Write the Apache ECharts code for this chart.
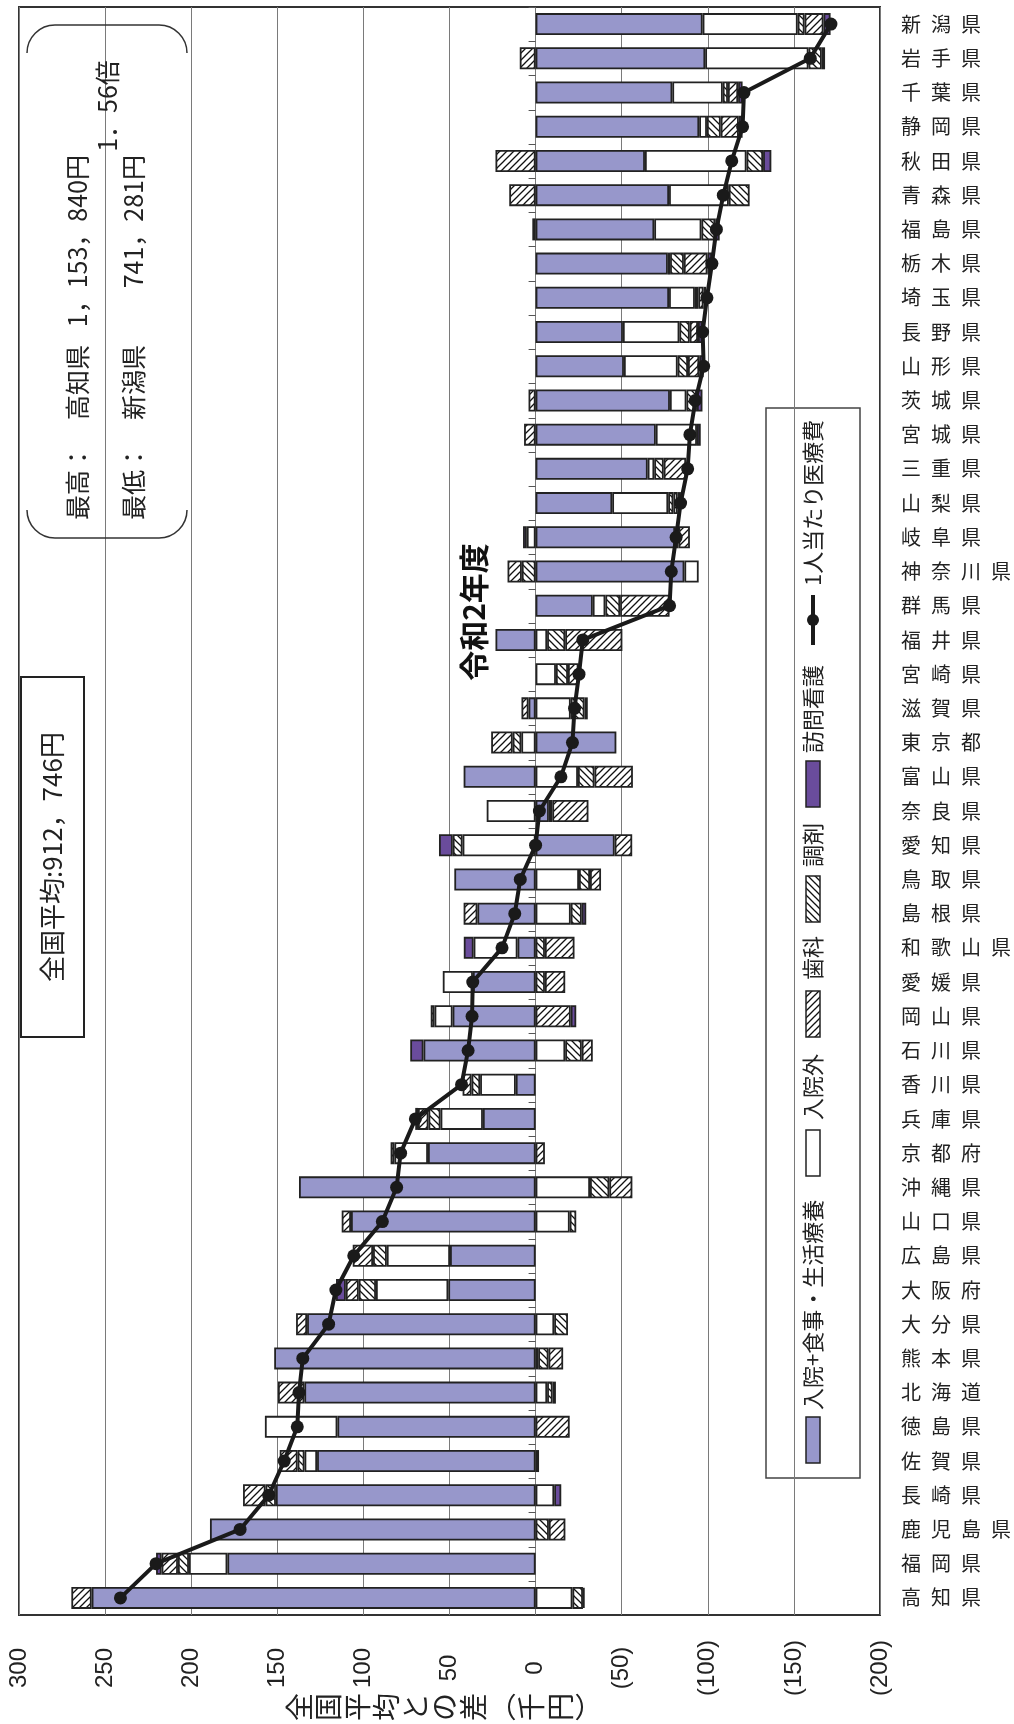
<!DOCTYPE html>
<html><head><meta charset="utf-8">
<script src="https://cdn.jsdelivr.net/npm/echarts@6/dist/echarts.min.js"></script>
<style>html,body{margin:0;padding:0;background:#fff}#c{width:1014px;height:1724px}</style>
</head><body><div id="c"></div>
<script>
// ---- data (千円, difference from national average; top -> bottom) ----
const prefectures = ['新潟県','岩手県','千葉県','静岡県','秋田県','青森県','福島県','栃木県','埼玉県','長野県','山形県','茨城県','宮城県','三重県','山梨県','岐阜県','神奈川県','群馬県','福井県','宮崎県','滋賀県','東京都','富山県','奈良県','愛知県','鳥取県','島根県','和歌山県','愛媛県','岡山県','石川県','香川県','兵庫県','京都府','沖縄県','山口県','広島県','大阪府','大分県','熊本県','北海道','徳島県','佐賀県','長崎県','鹿児島県','福岡県','高知県'];
const inpatient   = [-97.0,-98.5,-79.4,-95.0,-63.5,-77.5,-68.9,-76.8,-77.5,-50.7,-51.3,-78.0,-69.8,-65.1,-44.5,-81.0,-86.4,-33.2,23.3,0,4.1,-46.9,41.8,-7.7,-45.9,47.2,33.8,10.5,36.4,48.2,65.1,11.5,30.6,62.5,137.4,107.2,49.7,50.7,132.7,151.8,134.3,115.1,126.9,150.8,189.1,179.0,257.8];
const outpatient  = [-55.2,-60.0,-29.3,-4.5,-59.0,-34.7,-27.4,-1.3,-15.0,-32.8,-31.2,-9.6,-23.9,-3.8,-32.5,5.1,-8.3,-7.3,-6.7,-11.8,-20.4,8.3,-24.6,28.4,42.4,-25.2,-20.4,25.5,17.5,10.5,-17.2,20.7,24.6,19.5,-31.6,-19.8,36.7,42.0,-10.8,-1.5,-6.7,42.1,7.3,-10.8,0,22.3,-21.4];
const dental      = [-4.0,-7.7,-3.0,-8.0,-9.6,-12.1,-8.0,-8.0,-2.0,-6.0,-6.0,-6.1,0,-5.5,-3.0,-2.0,8.0,-8.6,-10.5,-7.0,-8.0,5.0,-9.6,-2.0,5.7,-6.4,-6.4,-5.4,-5.4,2.2,-9.6,5.0,7.0,2.2,-11.2,-3.8,8.0,10.0,-8.0,-6.0,-3.2,0,4.0,6.0,-7.7,6.4,-6.1];
const pharmacy    = [-11.0,9.2,-5.9,-10.5,23.3,15.3,1.9,-13.7,-3.0,-4.8,-6.5,4.1,6.7,-13.0,-2.5,-6.6,8.3,-28.7,-33.2,-6.1,4.1,12.5,-22.3,-21.0,-10.2,-6.4,8.0,-17.2,-11.8,-20.4,-6.4,5.2,6.1,-5.4,-13.4,5.4,11.8,7.5,6.4,-8.5,15.3,-19.8,10.4,13.1,-9.6,9.5,11.8];
const homeNursing = [-4.1,-1.9,-2.6,-2.2,-4.8,0,-2.6,-2.6,-1.5,-2.6,-2.6,-3.2,-2.2,0,-1.9,2.2,0,0,0,0,-1.9,0,0,0,8.0,0,-2.6,5.7,0,-3.2,7.7,0,1.6,0,0,0,0,5.7,0,0,-1.9,0,-2.0,-4.1,0,3.2,-1.0];
const perCapitaDiff = [-171.5,-159.5,-121.0,-120.2,-113.9,-109.0,-105.0,-102.4,-99.5,-97.0,-97.6,-92.8,-89.6,-88.3,-84.2,-81.6,-78.8,-77.8,-27.4,-25.2,-22.6,-21.4,-14.7,-2.2,0.0,8.9,12.1,19.5,36.5,36.9,39.2,43.0,69.8,78.4,80.7,89.0,105.6,116.0,120.2,135.2,137.4,138.4,146.0,155.0,171.6,220.4,241.1];
const seriesNames = ['入院+食事・生活療養','入院外','歯科','調剤','訪問看護','1人当たり医療費'];
const axisMin = -200, axisMax = 300, axisStep = 50;

// ---- styles ----
const JP = '"Noto Sans CJK JP", sans-serif';
const NUM = '"Liberation Sans", Arial, sans-serif';
const PURPLE = '#9797cb', DARKP = '#6a4c9c', EDGE = '#222';
function hatch(dir){
  const c = document.createElement('canvas'); c.width = 7; c.height = 7;
  const g = c.getContext('2d'); g.fillStyle = '#fff'; g.fillRect(0,0,7,7);
  g.strokeStyle = '#111'; g.lineWidth = 1.3; g.beginPath();
  if (dir > 0) { g.moveTo(-1,8); g.lineTo(8,-1); g.moveTo(-4,4); g.lineTo(4,-4); g.moveTo(3,11); g.lineTo(11,3); }
  else { g.moveTo(-1,-1); g.lineTo(8,8); g.moveTo(-4,3); g.lineTo(4,11); g.moveTo(3,-4); g.lineTo(11,4); }
  g.stroke();
  return {image: c, repeat: 'repeat'};
}
const fills = [PURPLE, '#ffffff', hatch(-1), hatch(1), DARKP];
const barData = [inpatient, outpatient, dental, pharmacy, homeNursing];

const chart = echarts.init(document.getElementById('c'), null, {renderer:'canvas'});
const series = barData.map((d,i)=>({
  name: seriesNames[i], type:'bar', stack:'t', barWidth:22, silent:true,
  data: d.map(v => v === 0 ? null : v),
  itemStyle:{color: fills[i], borderColor: EDGE, borderWidth: 1.8}
}));
series.push({
  name: seriesNames[5], type:'line', data: perCapitaDiff, z: 10, silent:true,
  symbol:'circle', symbolSize:13, lineStyle:{color:'#1a1a1a', width:4},
  itemStyle:{color:'#1a1a1a'}
});
// category tick marks on the zero line (positioned through the axes' scales)
series.push({
  type:'custom', silent:true, z:3,
  data: prefectures.map((p,i)=>[0,i]), encode:{x:0, y:1},
  renderItem: (params, api) => {
    const pt = api.coord([0, api.value(1)]);
    const h = api.size([0,1])[1];
    const y = Math.round(pt[1] - h/2) + 0.5;
    return {type:'line', shape:{x1:pt[0]-7, y1:y, x2:pt[0], y2:y}, style:{stroke:'#555', lineWidth:1}};
  }
});

// legend (rotated, built from series names)
const legItems = [];
const iconPos = [15, 302, 441, 556, 671];
const textPos = [68, 358, 498, 611, 725];
for (let i=0;i<5;i++){
  legItems.push({type:'rect', shape:{x:iconPos[i], y:40, width:46, height:14}, style:{fill: fills[i], stroke: EDGE, lineWidth:1.5}});
  legItems.push({type:'text', x:textPos[i], y:47, style:{text: seriesNames[i], font:'22px '+JP, fill:'#222', textAlign:'left', textVerticalAlign:'middle'}});
}
legItems.push({type:'line', shape:{x1:833,y1:47,x2:883,y2:47}, style:{stroke:'#1a1a1a', lineWidth:4}});
legItems.push({type:'circle', shape:{cx:858, cy:47, r:6}, style:{fill:'#1a1a1a'}});
legItems.push({type:'text', x:892, y:47, style:{text: seriesNames[5], font:'22px '+JP, fill:'#222', textAlign:'left', textVerticalAlign:'middle'}});

const R = Math.PI/2;
const bStyle = {fill:null, stroke:'#333', lineWidth:1.5};
const graphic = [
  {type:'group', x:766, y:1478, rotation:R, z:50, children:[
    {type:'rect', shape:{x:0,y:0,width:1070,height:94}, style:{fill:'#fff', stroke:'#444', lineWidth:1.5}}
  ].concat(legItems)},
  // national average box
  {type:'rect', z:50, shape:{x:21,y:677,width:63,height:360}, style:{fill:'#fff', stroke:'#222', lineWidth:2}},
  {type:'text', z:51, x:52, y:857, rotation:R, style:{text:'全国平均:912，746円', font:'26px '+JP, fill:'#222', textAlign:'center', textVerticalAlign:'middle'}},
  // partially visible title fragment
  {type:'text', z:51, x:474, y:612, rotation:R, style:{text:'令和2年度', font:'bold 30px '+JP, fill:'#111', textAlign:'center', textVerticalAlign:'middle'}},
  // max/min bracket box
  {type:'arc', z:50, shape:{cx:55, cy:53, r:28, startAngle:Math.PI, endAngle:Math.PI*1.5}, style:bStyle},
  {type:'line', z:50, shape:{x1:55, y1:25, x2:159, y2:25}, style:bStyle},
  {type:'arc', z:50, shape:{cx:159, cy:53, r:28, startAngle:Math.PI*1.5, endAngle:Math.PI*2}, style:bStyle},
  {type:'arc', z:50, shape:{cx:55, cy:510, r:28, startAngle:Math.PI*0.5, endAngle:Math.PI}, style:bStyle},
  {type:'line', z:50, shape:{x1:55, y1:538, x2:159, y2:538}, style:bStyle},
  {type:'arc', z:50, shape:{cx:159, cy:510, r:28, startAngle:0, endAngle:Math.PI*0.5}, style:bStyle},
  {type:'text', z:51, x:77, y:520, rotation:R, style:{text:'最高：　高知県', font:'25px '+JP, fill:'#222', textAlign:'left', textVerticalAlign:'middle'}},
  {type:'text', z:51, x:77, y:155, rotation:R, style:{text:'1，153，840円', font:'25px '+JP, fill:'#222', textAlign:'right', textVerticalAlign:'middle'}},
  {type:'text', z:51, x:133, y:520, rotation:R, style:{text:'最低：　新潟県', font:'25px '+JP, fill:'#222', textAlign:'left', textVerticalAlign:'middle'}},
  {type:'text', z:51, x:133, y:155, rotation:R, style:{text:'741，281円', font:'25px '+JP, fill:'#222', textAlign:'right', textVerticalAlign:'middle'}},
  {type:'text', z:51, x:107, y:106, rotation:R, style:{text:'1．56倍', font:'25px '+JP, fill:'#222', textAlign:'center', textVerticalAlign:'middle'}},
  // value axis title (vertical writing, rotated)
  {type:'text', z:51, x:444, y:1707, rotation:R, style:{text:'全\n国\n平\n均\nと\nの\n差\n︵\n千\n円\n︶', font:'28px '+JP, lineHeight:29, fill:'#222', textAlign:'center', textVerticalAlign:'middle'}}
];

chart.setOption({
  animation:false,
  backgroundColor:'#fff',
  grid:{left:19, right:129, top:7, bottom:109, show:true, borderColor:'#333', borderWidth:2},
  xAxis:{type:'value', min:axisMin, max:axisMax, interval:axisStep, inverse:true,
    axisLine:{show:false}, axisTick:{show:false},
    splitLine:{show:true, lineStyle:{color:'#7a7a7a', width:1}},
    axisLabel:{rotate:90, align:'center', verticalAlign:'middle', margin:53, fontSize:24, color:'#222', fontFamily:NUM,
      formatter: v => v < 0 ? '(' + (-v) + ')' : String(v)}},
  yAxis:{type:'category', data:prefectures, inverse:true, position:'right',
    axisLine:{show:false}, axisTick:{show:false}, splitLine:{show:false},
    axisLabel:{margin:21, align:'left', fontSize:20, color:'#222', fontFamily:JP,
      formatter: s => s.split('').join('\u2002')}},
  series: series,
  graphic: graphic
});
</script></body></html>
